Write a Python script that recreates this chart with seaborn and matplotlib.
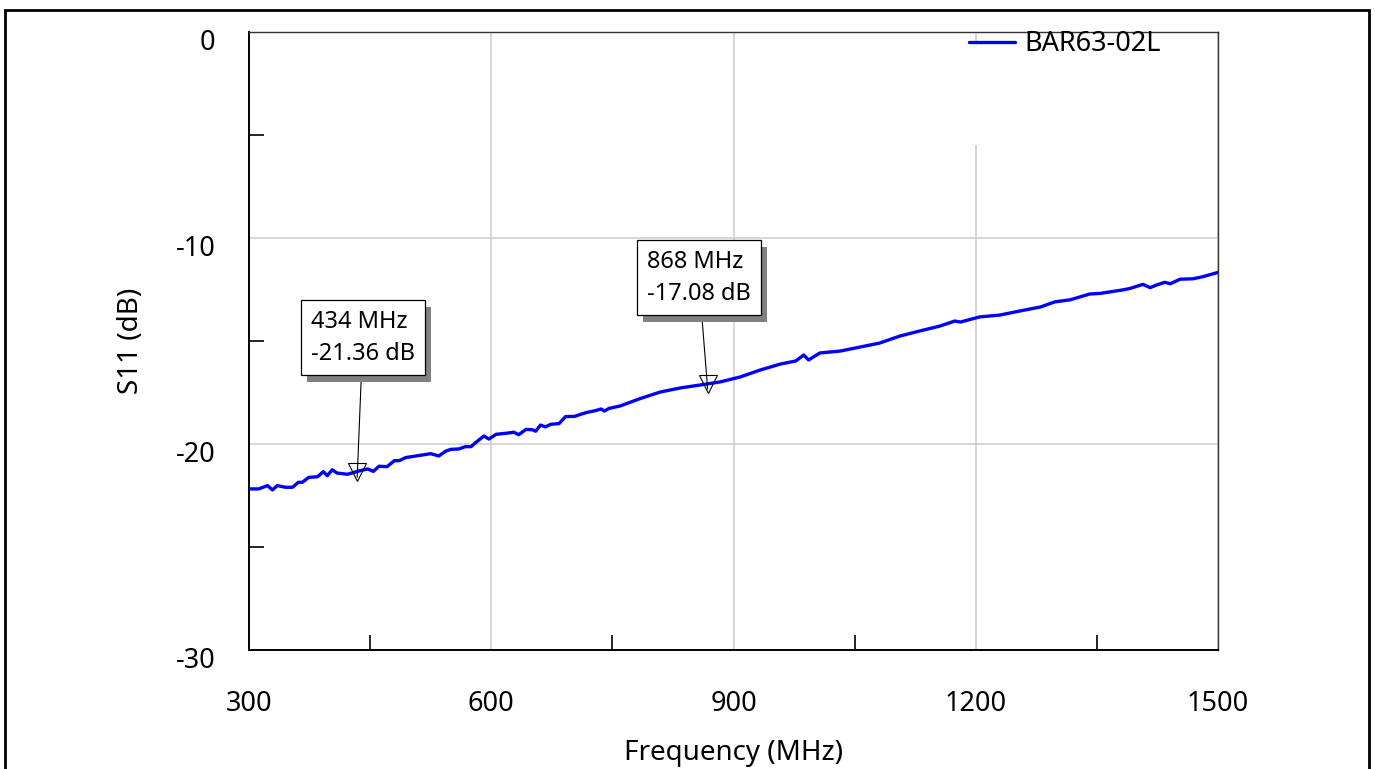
import numpy as np
import pandas as pd
import matplotlib
matplotlib.use("Agg")
import matplotlib.pyplot as plt
import matplotlib.patches as mpatches
import matplotlib.patheffects as pe
import matplotlib.transforms as mtransforms
from matplotlib.ticker import MultipleLocator
import seaborn as sns

# ---- data ----
freq_mhz = [300, 312, 323, 329, 335, 345, 354, 361, 366, 374, 385, 392, 397, 403, 409,
            422, 436, 447, 454, 461, 471, 480, 486, 494, 525, 535, 544, 550, 560, 568,
            575, 581, 591, 597, 606, 618, 628, 634, 643, 651, 655, 661, 667, 674, 684,
            692, 703, 717, 729, 736, 740, 746, 760, 784, 809, 834, 858, 868, 883, 908,
            933, 958, 977, 987, 993, 1007, 1032, 1057, 1081, 1106, 1131, 1156, 1174,
            1181, 1205, 1230, 1255, 1280, 1298, 1317, 1341, 1354, 1382, 1391, 1407,
            1416, 1424, 1434, 1441, 1453, 1469, 1481, 1500]
s11_db = [-22.18, -22.18, -22.02, -22.23, -22.02, -22.10, -22.10, -21.86, -21.86, -21.62,
          -21.59, -21.34, -21.54, -21.25, -21.41, -21.47, -21.31, -21.21, -21.33, -21.08,
          -21.10, -20.81, -20.81, -20.66, -20.47, -20.58, -20.34, -20.26, -20.24, -20.13,
          -20.13, -19.92, -19.61, -19.76, -19.53, -19.48, -19.43, -19.55, -19.29, -19.31,
          -19.38, -19.08, -19.17, -19.04, -19.01, -18.67, -18.66, -18.48, -18.38, -18.30,
          -18.40, -18.27, -18.15, -17.80, -17.48, -17.28, -17.14, -17.08, -16.99, -16.75,
          -16.41, -16.12, -15.97, -15.68, -15.92, -15.58, -15.49, -15.29, -15.10, -14.76,
          -14.51, -14.27, -14.03, -14.08, -13.83, -13.74, -13.54, -13.35, -13.10, -13.00,
          -12.72, -12.69, -12.52, -12.45, -12.25, -12.41, -12.28, -12.15, -12.22, -12.00,
          -11.98, -11.88, -11.67]
series_name = "BAR63-02L"

marker_freq = [434, 868]
marker_db = [-21.36, -17.08]
marker_text = ["434 MHz\n-21.36 dB", "868 MHz\n-17.08 dB"]
marker_box_center = [(441, -14.85), (857, -11.94)]

x_ticks = [300, 600, 900, 1200, 1500]
y_ticks = [0, -10, -20, -30]

# ---- style ----
sns.set_style("white")
plt.rcParams["font.family"] = ["Noto Sans", "DejaVu Sans"]
plt.rcParams["axes.unicode_minus"] = False
plt.rcParams["text.color"] = "black"
plt.rcParams["axes.labelcolor"] = "black"

W, H = 1375, 769
fig = plt.figure(figsize=(W / 100, H / 100), dpi=100)
ax = fig.add_axes([249 / W, 1 - 650 / H, (1218 - 249) / W, (650 - 32) / H])

df = pd.DataFrame({"Frequency (MHz)": freq_mhz, "S11 (dB)": s11_db, "series": series_name})
sns.lineplot(data=df, x="Frequency (MHz)", y="S11 (dB)", hue="series",
             palette=["#0000ff"], linewidth=2.4, ax=ax, zorder=3)

ax.set_xlim(300, 1500)
ax.set_ylim(-30, 0)
ax.set_xticks(x_ticks)
ax.set_yticks(y_ticks)
ax.xaxis.set_minor_locator(MultipleLocator(150))
ax.yaxis.set_minor_locator(MultipleLocator(5))
ax.grid(True, which="major", color="#cccccc", linewidth=1.1)
ax.grid(False, which="minor")
ax.set_axisbelow(True)
ax.tick_params(which="major", length=0, labelsize=19.5, colors="black",
               labelcolor="black")
ax.tick_params(axis="x", which="major", pad=29)
ax.tick_params(axis="y", which="major", pad=24)
ax.tick_params(which="minor", direction="in", length=10.5, width=1.2, color="black",
               bottom=True, left=True, top=False, right=False)
offset = mtransforms.ScaledTranslation(0, 3 / 100, fig.dpi_scale_trans)
for t in ax.yaxis.get_major_ticks():
    t.label1.set_va("top")
    t.label1.set_transform(t.label1.get_transform() + offset)
ax.set_xlabel("Frequency (MHz)", fontsize=20, labelpad=15)
ax.set_ylabel("S11 (dB)", fontsize=20, labelpad=22)
for side in ["left", "bottom"]:
    ax.spines[side].set_color("black")
    ax.spines[side].set_linewidth(1.4)
for side in ["top", "right"]:
    ax.spines[side].set_color("#333333")
    ax.spines[side].set_linewidth(1.0)

# white legend area
ax.add_patch(mpatches.Rectangle((0.734, 0.817), 0.262, 0.165, transform=ax.transAxes,
                                facecolor="white", edgecolor="none", zorder=1))
leg = ax.legend(loc="upper left", bbox_to_anchor=(0.743, 1.003), frameon=False,
                fontsize=19.5, handlelength=1.7, handletextpad=0.35, borderpad=0,
                borderaxespad=0)
for h in leg.get_lines():
    h.set_linewidth(2.4)
for txt in leg.get_texts():
    txt.set_color("black")

# markers and annotations
ax.plot(marker_freq, marker_db, linestyle="none", marker="v", markersize=13,
        markerfacecolor="none", markeredgecolor="black", markeredgewidth=0.8, zorder=4)
for fx, dy, txt, (bx, by) in zip(marker_freq, marker_db, marker_text, marker_box_center):
    ann = ax.annotate(txt, xy=(fx, dy - 0.25), xytext=(bx, by), textcoords="data",
                      ha="center", va="center", fontsize=17, linespacing=1.4,
                      multialignment="left", color="black",
                      bbox=dict(boxstyle="square,pad=0.42", fc="white", ec="black", lw=0.9),
                      arrowprops=dict(arrowstyle="-", color="black", lw=0.8,
                                      shrinkA=0, shrinkB=0), zorder=5)
    ann.get_bbox_patch().set_path_effects([
        pe.SimplePatchShadow(offset=(4.5, -4.5), shadow_rgbFace="#808080", alpha=1.0),
        pe.Normal()])

# outer frame
fig.patches.append(mpatches.Rectangle((5 / W, -0.02), (1369 - 5) / W, 1 - 10 / H + 0.02,
                                      transform=fig.transFigure, fill=False,
                                      edgecolor="black", linewidth=2.0, zorder=10))

fig.savefig("out.png", dpi=100, facecolor="white")
